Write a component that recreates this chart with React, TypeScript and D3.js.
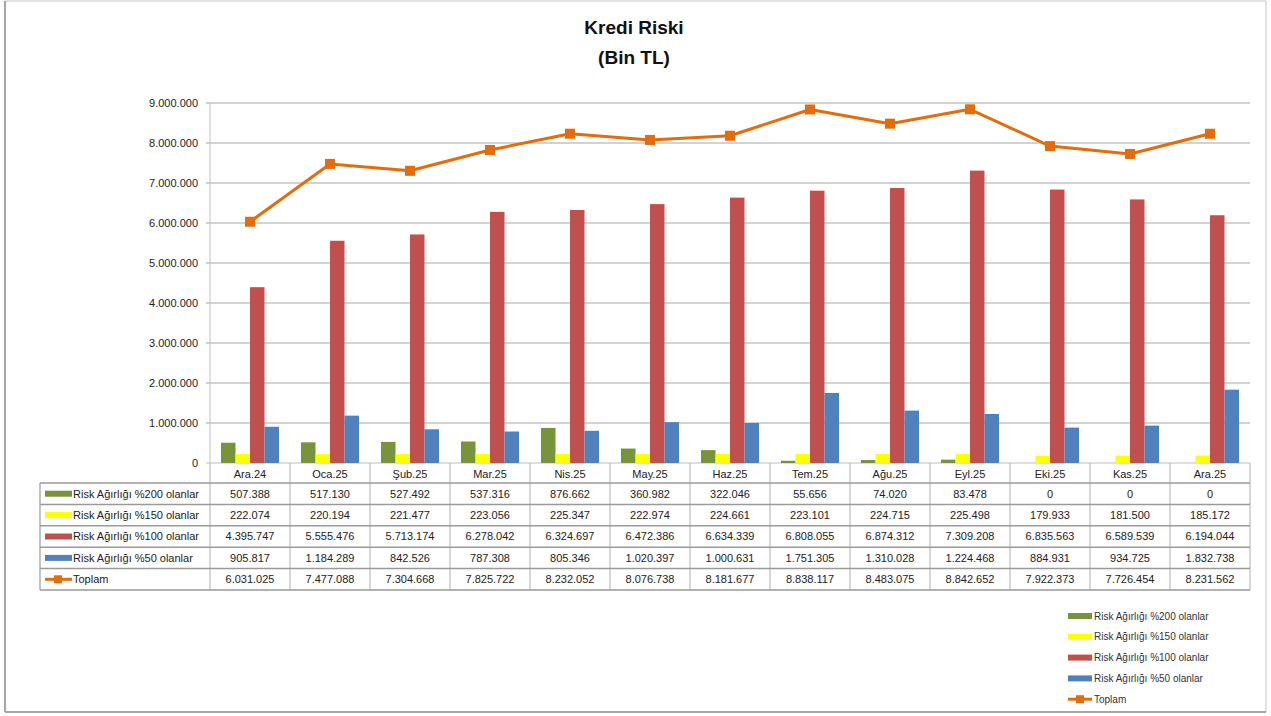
import React from "react";
import * as d3 from "d3";

const categories = ["Ara.24", "Oca.25", "Şub.25", "Mar.25", "Nis.25", "May.25", "Haz.25", "Tem.25", "Ağu.25", "Eyl.25", "Eki.25", "Kas.25", "Ara.25"];
const seriesNames = ["Risk Ağırlığı %200 olanlar", "Risk Ağırlığı %150 olanlar", "Risk Ağırlığı %100 olanlar", "Risk Ağırlığı %50 olanlar"];
const w200 = [507388, 517130, 527492, 537316, 876662, 360982, 322046, 55656, 74020, 83478, 0, 0, 0];
const w150 = [222074, 220194, 221477, 223056, 225347, 222974, 224661, 223101, 224715, 225498, 179933, 181500, 185172];
const w100 = [4395747, 5555476, 5713174, 6278042, 6324697, 6472386, 6634339, 6808055, 6874312, 7309208, 6835563, 6589539, 6194044];
const w50 = [905817, 1184289, 842526, 787308, 805346, 1020397, 1000631, 1751305, 1310028, 1224468, 884931, 934725, 1832738];
const toplam = [6031025, 7477088, 7304668, 7825722, 8232052, 8076738, 8181677, 8838117, 8483075, 8842652, 7922373, 7726454, 8231562];
const yTicks = [0, 1000000, 2000000, 3000000, 4000000, 5000000, 6000000, 7000000, 8000000, 9000000];
const seriesColors = ["#77933C", "#FFFF00", "#C0504D", "#4F81BD"];
const lineColor = "#E46C0A";
const lineName = "Toplam";

const barSeries = [w200, w150, w100, w50];

const W = 1271;
const H = 716;
const FONT = "'Liberation Sans', Arial, sans-serif";

const trLocale = d3.formatLocale({ decimal: ",", thousands: ".", grouping: [3], currency: ["", ""] });
const fmt = trLocale.format(",d");

export default function App() {
  const plotLeft = 210;
  const plotRight = 1250;
  const plotTop = 103;
  const plotBottom = 463;

  const x = d3.scaleBand<string>().domain(categories).range([plotLeft, plotRight]).padding(0);
  const bw = x.bandwidth();
  const inner = d3
    .scaleBand<number>()
    .domain([0, 1, 2, 3])
    .range([bw * 0.1375, bw * 0.8625])
    .padding(0);
  const y = d3.scaleLinear().domain([0, 9000000]).range([plotBottom, plotTop]);

  const line = d3
    .line<number>()
    .x((_, i) => (x(categories[i]) as number) + bw / 2)
    .y((d) => y(d));

  const headerBottom = 483;
  const rowH = 21.4;
  const tableLeft = 40;
  const rows = [...barSeries, toplam];
  const rowNames = [...seriesNames, lineName];
  const tableBottom = headerBottom + rowH * rows.length;

  const legendItems = [...seriesNames, lineName];

  return (
    <div style={{ position: "fixed", left: 0, top: 0 }}>
      <svg width={W} height={H} style={{ display: "block", background: "#fff" }} fontFamily={FONT}>
        {/* outer frame */}
        <line x1={5} y1={1} x2={1266} y2={1} stroke="#d9d9d9" strokeWidth={1.5} />
        <line x1={5} y1={1} x2={5} y2={712} stroke="#a6a6a6" strokeWidth={2} />
        <line x1={1266} y1={1} x2={1266} y2={712} stroke="#d9d9d9" strokeWidth={1.5} />
        <line x1={5} y1={712} x2={1266} y2={712} stroke="#a6a6a6" strokeWidth={2} />

        {/* title */}
        <text x={634} y={34} textAnchor="middle" fontSize={19} fontWeight="bold" fill="#111">
          Kredi Riski
        </text>
        <text x={634} y={64} textAnchor="middle" fontSize={19} fontWeight="bold" fill="#111">
          (Bin TL)
        </text>

        {/* gridlines and y labels */}
        {yTicks.map((t) => (
          <g key={t}>
            <line x1={plotLeft - 4} x2={plotRight} y1={y(t)} y2={y(t)} stroke={t === 0 ? "#bfbfbf" : "#a6a6a6"} strokeWidth={1.2} />
            <text x={198} y={y(t)} dy="0.35em" textAnchor="end" fontSize={11} fill="#222">
              {fmt(t)}
            </text>
          </g>
        ))}
        <line x1={plotLeft} x2={plotLeft} y1={plotTop} y2={plotBottom} stroke="#bfbfbf" strokeWidth={1} />

        {/* bars */}
        {barSeries.map((s, si) =>
          s.map((v, i) => {
            const x0 = (x(categories[i]) as number) + (inner(si) as number);
            return (
              <rect
                key={`${si}-${i}`}
                x={x0}
                y={y(v)}
                width={inner.bandwidth()}
                height={plotBottom - y(v)}
                fill={seriesColors[si]}
              />
            );
          })
        )}

        {/* line */}
        <path d={line(toplam) || ""} fill="none" stroke={lineColor} strokeWidth={3} strokeLinejoin="round" />
        {toplam.map((v, i) => (
          <rect
            key={i}
            x={(x(categories[i]) as number) + bw / 2 - 5}
            y={y(v) - 5}
            width={10}
            height={10}
            fill={lineColor}
          />
        ))}

        {/* data table */}
        {categories.map((c, i) => (
          <text key={c} x={(x(c) as number) + bw / 2} y={(plotBottom + headerBottom) / 2 + 1} dy="0.35em" textAnchor="middle" fontSize={11} fill="#222">
            {c}
          </text>
        ))}
        {/* vertical lines */}
        {[...categories.map((c) => x(c) as number), plotRight].map((xx, i) => (
          <line key={`v${i}`} x1={xx} x2={xx} y1={plotBottom} y2={tableBottom} stroke="#bdbdbd" strokeWidth={1.2} />
        ))}
        <line x1={tableLeft} x2={tableLeft} y1={headerBottom} y2={tableBottom} stroke="#9a9a9a" strokeWidth={1.2} />
        {/* horizontal lines */}
        <line x1={plotLeft} x2={plotRight} y1={headerBottom} y2={headerBottom} stroke="#9a9a9a" strokeWidth={1.5} />
        {rows.map((_, r) => (
          <line
            key={`h${r}`}
            x1={tableLeft}
            x2={plotRight}
            y1={headerBottom + rowH * (r + 1)}
            y2={headerBottom + rowH * (r + 1)}
            stroke="#9a9a9a"
            strokeWidth={1.5}
          />
        ))}
        <line x1={tableLeft} x2={plotLeft} y1={headerBottom} y2={headerBottom} stroke="#9a9a9a" strokeWidth={1.5} />
        {rows.map((s, r) => {
          const cy = headerBottom + rowH * r + rowH / 2;
          return (
            <g key={`r${r}`}>
              {r < 4 ? (
                <rect x={45} y={cy - 3} width={27} height={6} fill={seriesColors[r]} />
              ) : (
                <g>
                  <line x1={45} x2={72} y1={cy} y2={cy} stroke={lineColor} strokeWidth={3} />
                  <rect x={54} y={cy - 4} width={8} height={8} fill={lineColor} />
                </g>
              )}
              <text x={73} y={cy} dy="0.35em" fontSize={11} fill="#222">
                {rowNames[r]}
              </text>
              {s.map((v, i) => (
                <text key={i} x={(x(categories[i]) as number) + bw / 2} y={cy} dy="0.35em" textAnchor="middle" fontSize={11} fill="#222">
                  {fmt(v)}
                </text>
              ))}
            </g>
          );
        })}

        {/* legend */}
        {legendItems.map((name, i) => {
          const cy = 616 + i * 20.8;
          return (
            <g key={name}>
              {i < 4 ? (
                <rect x={1068} y={cy - 3} width={24} height={6} fill={seriesColors[i]} />
              ) : (
                <g>
                  <line x1={1068} x2={1092} y1={cy} y2={cy} stroke={lineColor} strokeWidth={3} />
                  <rect x={1076} y={cy - 4} width={8} height={8} fill={lineColor} />
                </g>
              )}
              <text x={1094} y={cy} dy="0.35em" fontSize={10} fill="#333">
                {name}
              </text>
            </g>
          );
        })}
      </svg>
    </div>
  );
}
